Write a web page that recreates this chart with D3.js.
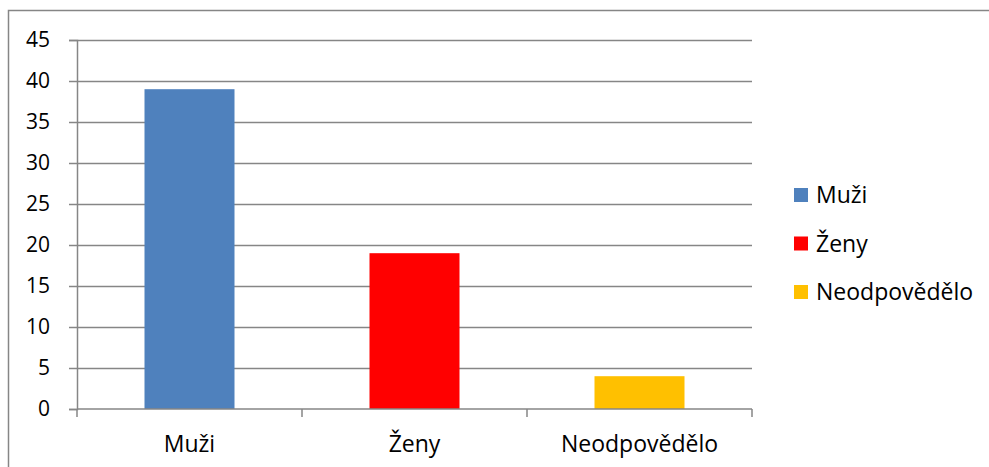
<!DOCTYPE html>
<html>
<head>
<meta charset="utf-8">
<script src="https://cdn.jsdelivr.net/npm/d3@7"></script>
<style>
  body { margin: 0; background: #fff; }
  svg text { font-family: "Open Sans", Lato, sans-serif; fill: #000; }
</style>
</head>
<body>
<div id="chart"></div>
<script>
var categories = ["Muži", "Ženy", "Neodpovědělo"]
var values = [39, 19, 4]
var colors = ["#4f81bd", "#ff0000", "#ffc000"]
var yTicks = [0, 5, 10, 15, 20, 25, 30, 35, 40, 45]

function draw_bar_chart(config) {
    var width = config.width || 989
    var height = config.height || 467
    var fontSize = config.fontSize || 23
    var tickFontSize = config.tickFontSize || 21

    var plot = { left: 77, right: 752, top: 40, bottom: 409 }

    var svg = d3.select(config.placeholder).append("svg")
        .attr("width", width)
        .attr("height", height)

    // outer frame (only top and left edges fall inside the picture)
    svg.append("rect")
        .attr("x", 8.5).attr("y", 10.5)
        .attr("width", width + 20).attr("height", height + 20)
        .attr("fill", "none")
        .attr("stroke", "#868686")
        .attr("stroke-width", 1.5)

    var x = d3.scaleBand()
        .domain(categories)
        .range([plot.left, plot.right])
        .paddingInner(0.6)
        .paddingOuter(0.3)

    var y = d3.scaleLinear()
        .domain([0, 45])
        .range([plot.bottom, plot.top])

    // gridlines
    svg.append("g")
        .selectAll("line")
        .data(yTicks.filter(function (d) { return d > 0 }))
        .enter().append("line")
        .attr("x1", plot.left).attr("x2", plot.right)
        .attr("y1", function (d) { return Math.round(y(d)) + 0.5 })
        .attr("y2", function (d) { return Math.round(y(d)) + 0.5 })
        .attr("stroke", "#868686")
        .attr("stroke-width", 1.5)

    // bars
    svg.append("g")
        .selectAll("rect")
        .data(values)
        .enter().append("rect")
        .attr("x", function (d, i) { return x(categories[i]) })
        .attr("width", x.bandwidth())
        .attr("y", function (d) { return y(d) })
        .attr("height", function (d) { return y(0) - y(d) })
        .attr("fill", function (d, i) { return colors[i] })

    // y axis
    var yAxis = svg.append("g")
        .attr("transform", "translate(" + plot.left + ",0)")
        .call(d3.axisLeft(y).tickValues(yTicks).tickSize(8).tickPadding(19))
    yAxis.select(".domain").attr("stroke", "#868686").attr("stroke-width", 1.5)
    yAxis.selectAll(".tick line").attr("stroke", "#868686").attr("stroke-width", 1.5)
    yAxis.selectAll("text").style("font-size", tickFontSize + "px")

    // x axis with ticks at category boundaries
    var xAxis = svg.append("g")
        .attr("transform", "translate(0," + plot.bottom + ")")
    xAxis.append("line")
        .attr("x1", plot.left).attr("x2", plot.right)
        .attr("stroke", "#868686").attr("stroke-width", 1.5)
    xAxis.selectAll("line.tick")
        .data(d3.range(categories.length + 1))
        .enter().append("line")
        .attr("class", "tick")
        .attr("x1", function (i) { return plot.left + i * (plot.right - plot.left) / categories.length })
        .attr("x2", function (i) { return plot.left + i * (plot.right - plot.left) / categories.length })
        .attr("y1", 0).attr("y2", 8)
        .attr("stroke", "#868686").attr("stroke-width", 1.5)
    xAxis.selectAll("text")
        .data(categories)
        .enter().append("text")
        .attr("x", function (d) { return x(d) + x.bandwidth() / 2 })
        .attr("y", 43)
        .attr("text-anchor", "middle")
        .style("font-size", fontSize + "px")
        .text(function (d) { return d })

    // legend
    var legend = svg.append("g")
        .attr("transform", "translate(794,195)")
    var item = legend.selectAll("g")
        .data(categories)
        .enter().append("g")
        .attr("transform", function (d, i) { return "translate(0," + i * 48.5 + ")" })
    item.append("rect")
        .attr("x", 0).attr("y", -7)
        .attr("width", 14).attr("height", 14)
        .attr("fill", function (d, i) { return colors[i] })
    item.append("text")
        .attr("x", 22).attr("y", 0)
        .attr("dy", "0.35em")
        .style("font-size", fontSize + "px")
        .text(function (d) { return d })
}

var config = {}
config.placeholder = "#chart"
draw_bar_chart(config)
</script>
</body>
</html>
